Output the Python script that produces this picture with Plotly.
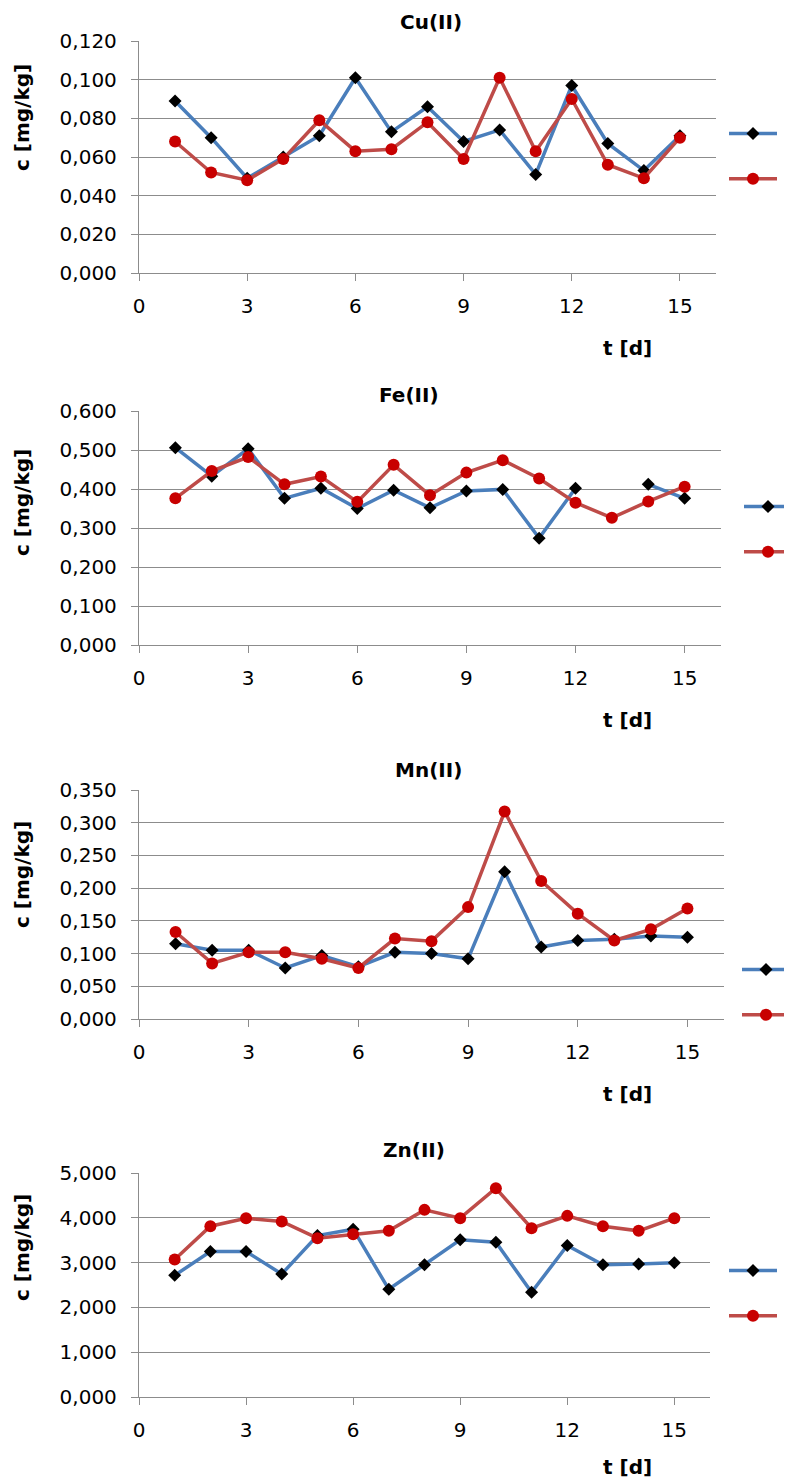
import plotly.graph_objects as go

W, H = 792, 1478

days = list(range(1, 16))
x_tick_vals = [0, 3, 6, 9, 12, 15]

cu_blue = [0.089, 0.070, 0.049, 0.060, 0.071, 0.101, 0.073, 0.086, 0.068, 0.074, 0.051, 0.097, 0.067, 0.053, 0.071]
cu_red = [0.068, 0.052, 0.048, 0.059, 0.079, 0.063, 0.064, 0.078, 0.059, 0.101, 0.063, 0.090, 0.056, 0.049, 0.070]

fe_blue = [0.506, 0.433, 0.503, 0.376, 0.402, 0.350, 0.397, 0.352, 0.395, 0.399, 0.274, 0.402, None, 0.412, 0.376]
fe_red = [0.376, 0.446, 0.482, 0.412, 0.432, 0.367, 0.462, 0.384, 0.442, 0.474, 0.427, 0.365, 0.326, 0.368, 0.406]

mn_blue = [0.115, 0.105, 0.105, 0.078, 0.097, 0.080, 0.102, 0.100, 0.092, 0.225, 0.110, 0.120, 0.122, 0.127, 0.125]
mn_red = [0.133, 0.085, 0.102, 0.102, 0.092, 0.078, 0.123, 0.119, 0.171, 0.317, 0.211, 0.161, 0.120, 0.137, 0.169]

zn_blue = [2.715, 3.249, 3.249, 2.745, 3.605, 3.746, 2.404, 2.953, 3.509, 3.457, 2.337, 3.383, 2.953, 2.967, 2.997]
zn_red = [3.071, 3.813, 3.991, 3.917, 3.546, 3.635, 3.709, 4.177, 3.991, 4.659, 3.769, 4.043, 3.813, 3.709, 3.991]

titles = ["Cu(II)", "Fe(II)", "Mn(II)", "Zn(II)"]
blues = [cu_blue, fe_blue, mn_blue, zn_blue]
reds = [cu_red, fe_red, mn_red, zn_red]
y_max = [0.12, 0.6, 0.35, 5.0]
y_step = [0.02, 0.1, 0.05, 1.0]
x_max = 16

# layout geometry in pixels (styling only)
plot_top = [33, 403, 782, 1165]
plot_bot = [265, 637, 1011, 1389]
plot_left = [131, 131, 131, 131]
plot_right = [708, 713, 716, 702]
title_xy = [(423, 14), (401, 387), (420, 762), (406, 1142)]
ytitle_y = [110, 495, 867, 1240]
xtitle_y = [340, 712, 1086, 1459]
legend_xy = [(752, 122), (767, 495), (765, 958), (752, 1259)]

FONT = "DejaVu Sans"
BLUE = "#4A7EBB"
RED = "#BE4B48"
RED_M = "#C80000"
GRID = "#8C8C8C"


def fx(p):
    return p / W


def fy(p):
    return 1 - p / H


fig = go.Figure()
annotations = []
layout = {}

for i in range(4):
    n = "" if i == 0 else str(i + 1)
    xa, ya = "x" + n, "y" + n
    leg = "legend" + n
    fig.add_trace(go.Scatter(
        x=days, y=blues[i], xaxis=xa, yaxis=ya, mode="lines+markers",
        name="", legend=leg, legendgroup="b" + n, connectgaps=False,
        line=dict(color=BLUE, width=3.5),
        marker=dict(symbol="diamond", size=10, color="black"),
    ))
    fig.add_trace(go.Scatter(
        x=days, y=reds[i], xaxis=xa, yaxis=ya, mode="lines+markers",
        name="", legend=leg, legendgroup="r" + n,
        line=dict(color=RED, width=3.5),
        marker=dict(symbol="circle", size=12, color=RED_M),
    ))
    layout["xaxis" + n] = dict(
        domain=[fx(plot_left[i]), fx(plot_right[i])], anchor=ya,
        range=[0, x_max], tickvals=x_tick_vals, showgrid=False, zeroline=False,
        showline=True, linecolor=GRID, linewidth=1.3,
        ticks="outside", ticklen=7, tickcolor=GRID, tickwidth=1.3,
        tickfont=dict(family=FONT, size=20, color="black"),
        ticklabelstandoff=8, automargin=False, fixedrange=True,
    )
    layout["yaxis" + n] = dict(
        domain=[fy(plot_bot[i]), fy(plot_top[i])], anchor=xa,
        range=[0, y_max[i]], dtick=y_step[i], tick0=0, tickformat=".3f",
        showgrid=True, gridcolor=GRID, gridwidth=1.3, zeroline=False,
        showline=True, linecolor=GRID, linewidth=1.3,
        ticks="outside", ticklen=7, tickcolor=GRID, tickwidth=1.3,
        tickfont=dict(family=FONT, size=20, color="black"),
        ticklabelstandoff=10, automargin=False, fixedrange=True,
    )
    layout[leg] = dict(
        xref="container", yref="container",
        x=fx(legend_xy[i][0] - 36), y=fy(legend_xy[i][1] - 12),
        xanchor="left", yanchor="top", bgcolor="rgba(0,0,0,0)",
        font=dict(family=FONT, size=14), tracegroupgap=24,
        traceorder="grouped", itemwidth=48,
    )
    tx, ty = title_xy[i]
    annotations.append(dict(
        text="<b>" + titles[i] + "</b>", x=fx(tx), y=fy(ty), xref="paper", yref="paper",
        showarrow=False, xanchor="center", yanchor="middle",
        font=dict(family=FONT, size=20, color="black"),
    ))
    annotations.append(dict(
        text="<b>t [d]</b>", x=fx(619), y=fy(xtitle_y[i]), xref="paper", yref="paper",
        showarrow=False, xanchor="center", yanchor="middle",
        font=dict(family=FONT, size=20, color="black"),
    ))
    annotations.append(dict(
        text="<b>c [mg/kg]</b>", x=fx(14), y=fy(ytitle_y[i]), xref="paper", yref="paper",
        showarrow=False, xanchor="center", yanchor="middle", textangle=-90,
        font=dict(family=FONT, size=20, color="black"),
    ))

fig.update_layout(
    width=W, height=H, autosize=False,
    margin=dict(l=0, r=0, t=0, b=0, autoexpand=False),
    paper_bgcolor="white", plot_bgcolor="white",
    separators=",.", showlegend=True,
    annotations=annotations,
    **layout,
)

fig.write_html("out.html")
